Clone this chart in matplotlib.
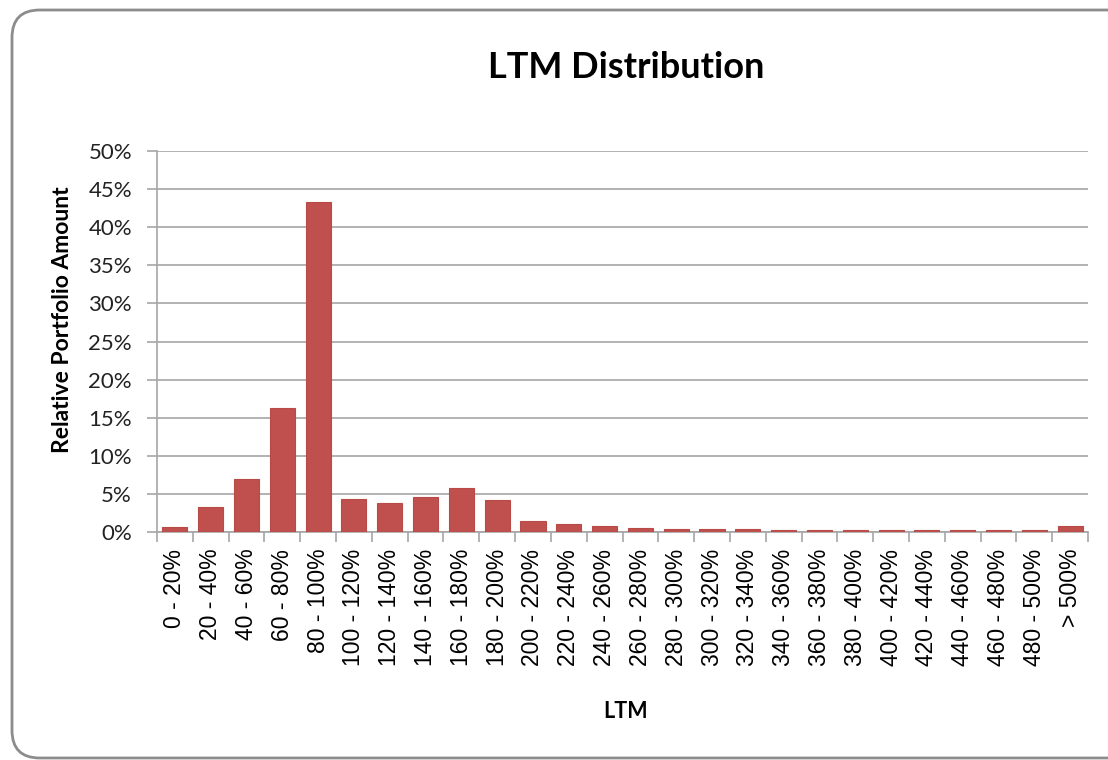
import matplotlib
matplotlib.use("Agg")
import matplotlib.pyplot as plt
from matplotlib.patches import FancyBboxPatch
from matplotlib.ticker import PercentFormatter
import numpy as np

CATEGORIES = ["0 - 20%", "20 - 40%", "40 - 60%", "60 - 80%", "80 - 100%",
              "100 - 120%", "120 - 140%", "140 - 160%", "160 - 180%", "180 - 200%",
              "200 - 220%", "220 - 240%", "240 - 260%", "260 - 280%", "280 - 300%",
              "300 - 320%", "320 - 340%", "340 - 360%", "360 - 380%", "380 - 400%",
              "400 - 420%", "420 - 440%", "440 - 460%", "460 - 480%", "480 - 500%",
              "> 500%"]
SHARE = [0.7, 3.3, 7.0, 16.3, 43.3,
         4.3, 3.8, 4.6, 5.8, 4.2,
         1.45, 1.0, 0.85, 0.5, 0.35,
         0.35, 0.35, 0.2, 0.2, 0.2,
         0.2, 0.2, 0.2, 0.2, 0.2,
         0.85]
Y_TICKS = [0, 5, 10, 15, 20, 25, 30, 35, 40, 45, 50]

BAR = "#C0504D"
EDGE = "#B84A47"
GRID = "#A6A6A6"

fig = plt.figure(figsize=(11.08, 7.6), dpi=100)
border = FancyBboxPatch((12 / 1108, 2 / 760), 1.05, 748 / 760,
                        boxstyle="round,pad=0,rounding_size=0.025",
                        transform=fig.transFigure, fill=False,
                        edgecolor="#8C8C8C", lw=2.0, mutation_aspect=1108 / 760)
fig.patches.append(border)

ax = fig.add_axes([157 / 1108, 1 - 532 / 760, (1088 - 157) / 1108, (532 - 151) / 760])
x = np.arange(len(CATEGORIES))
ax.bar(x, SHARE, width=0.7, color=BAR, edgecolor=EDGE, lw=0.8, zorder=3)

ax.set_xlim(-0.5, len(CATEGORIES) - 0.5)
ax.set_ylim(0, 50)
ax.set_yticks(Y_TICKS)
ax.yaxis.set_major_formatter(PercentFormatter(decimals=0))
ax.grid(axis="y", color=GRID, lw=1.2, zorder=0)

ax.set_xticks(x)
ax.set_xticklabels(CATEGORIES, rotation=90, fontsize=16.5, family="Liberation Sans")
ax.set_xticks(np.arange(len(CATEGORIES) + 1) - 0.5, minor=True)
ax.tick_params(axis="x", which="major", length=0, pad=12)
ax.tick_params(axis="x", which="minor", length=7, color=GRID, width=1.2)
ax.tick_params(axis="y", length=7, color=GRID, width=1.2, labelsize=16, pad=11)
for lab in ax.get_yticklabels():
    lab.set_family("Lato")
    lab.set_color("#222222")

for side in ["top", "right"]:
    ax.spines[side].set_visible(False)
for side in ["left", "bottom"]:
    ax.spines[side].set_color(GRID)
    ax.spines[side].set_linewidth(1.2)

fig.text(63 / 1108, 1 - 320 / 760, "Relative Portfolio Amount", rotation=90,
         ha="center", va="center", fontsize=16.5, fontweight="bold", family="Lato")
fig.text(626 / 1108, 1 - 712 / 760, "LTM", ha="center", va="center",
         fontsize=15.5, fontweight="bold", family="Lato")
fig.text(626 / 1108, 1 - 68 / 760, "LTM Distribution", ha="center", va="center",
         fontsize=26, fontweight="bold", family="Lato")

fig.savefig("out.png", dpi=100)
